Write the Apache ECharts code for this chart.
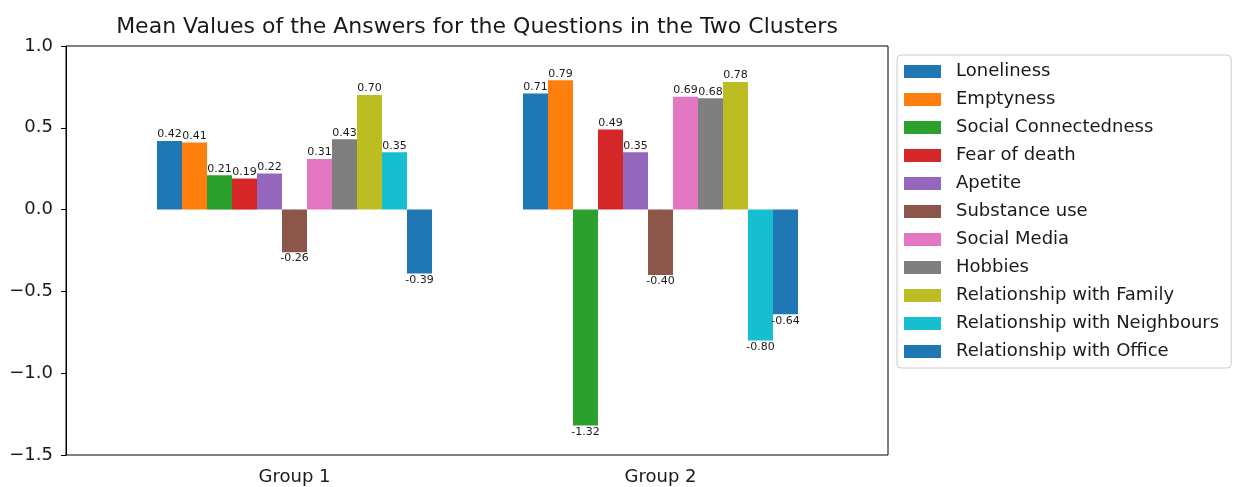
<!DOCTYPE html>
<html>
<head>
<meta charset="utf-8">
<script src="https://cdn.jsdelivr.net/npm/echarts@6/dist/echarts.min.js"></script>
<style>
  html, body { margin: 0; padding: 0; background: #fff; }
  #chart { width: 1234px; height: 487px; }
</style>
</head>
<body>
<div id="chart"></div>
<script>
const groups = ['Group 1', 'Group 2']
const questions = [
  'Loneliness', 'Emptyness', 'Social Connectedness', 'Fear of death', 'Apetite',
  'Substance use', 'Social Media', 'Hobbies', 'Relationship with Family',
  'Relationship with Neighbours', 'Relationship with Office'
]
const group1Values = [0.42, 0.41, 0.21, 0.19, 0.22, -0.26, 0.31, 0.43, 0.70, 0.35, -0.39]
const group2Values = [0.71, 0.79, -1.32, 0.49, 0.35, -0.40, 0.69, 0.68, 0.78, -0.80, -0.64]
const yTicks = [-1.5, -1.0, -0.5, 0.0, 0.5, 1.0]

const palette = [
  '#1f77b4', '#ff7f0e', '#2ca02c', '#d62728', '#9467bd', '#8c564b',
  '#e377c2', '#7f7f7f', '#bcbd22', '#17becf', '#1f77b4'
]
const font = 'DejaVu Sans'
const textColor = '#1a1a1a'
const fmtTick = (v) => v.toFixed(1).replace('-', '\u2212')

const chart = echarts.init(document.getElementById('chart'))

const series = questions.map((name, i) => ({
  name,
  type: 'bar',
  xAxisIndex: 1,
  yAxisIndex: 1,
  barWidth: 25,
  barGap: '0%',
  itemStyle: { color: palette[i] },
  data: [group1Values[i], group2Values[i]].map((v) => ({
    value: v,
    label: { position: v < 0 ? 'bottom' : 'top' }
  })),
  label: {
    show: true,
    distance: 1,
    fontFamily: font,
    fontSize: 11,
    color: textColor,
    formatter: (p) => p.value.toFixed(2)
  },
  emphasis: { disabled: true }
}))

chart.setOption({
  backgroundColor: '#fff',
  animation: false,
  color: palette,
  title: {
    text: 'Mean Values of the Answers for the Questions in the Two Clusters',
    left: 472,
    textAlign: 'center',
    top: 11,
    textStyle: { fontFamily: font, fontSize: 22, fontWeight: 'normal', color: textColor }
  },
  legend: {
    orient: 'vertical',
    left: 897,
    top: 55,
    icon: 'rect',
    itemWidth: 37,
    itemHeight: 13,
    itemGap: 7,
    padding: [6, 12, 6, 7],
    borderColor: '#cccccc',
    borderWidth: 1,
    borderRadius: 4,
    textStyle: {
      fontFamily: font,
      fontSize: 18,
      color: textColor,
      lineHeight: 21,
      padding: [0, 0, 0, 10]
    },
    data: questions
  },
  grid: [
    { left: 66, top: 46, width: 822, height: 409, show: true, borderColor: '#000', borderWidth: 1 },
    { left: 111.5, top: 46, width: 732, height: 409 }
  ],
  xAxis: [
    { type: 'value', gridIndex: 0, min: 0, max: 1, show: false },
    {
      type: 'category',
      gridIndex: 1,
      data: groups,
      axisLine: { show: false },
      axisTick: { show: true, alignWithLabel: true, length: 5, lineStyle: { color: '#000' } },
      axisLabel: { fontFamily: font, fontSize: 18, color: textColor, margin: 13 }
    }
  ],
  yAxis: [
    {
      type: 'value',
      gridIndex: 0,
      min: yTicks[0],
      max: yTicks[yTicks.length - 1],
      interval: 0.5,
      splitLine: { show: false },
      axisLine: { show: true, lineStyle: { color: '#000' } },
      axisTick: { show: true, length: 5, lineStyle: { color: '#000' } },
      axisLabel: { fontFamily: font, fontSize: 18, color: textColor, margin: 13, formatter: fmtTick }
    },
    {
      type: 'value',
      gridIndex: 1,
      min: yTicks[0],
      max: yTicks[yTicks.length - 1],
      show: false,
      splitLine: { show: false }
    }
  ],
  series
})

window.addEventListener('resize', () => chart.resize())
</script>
</body>
</html>
